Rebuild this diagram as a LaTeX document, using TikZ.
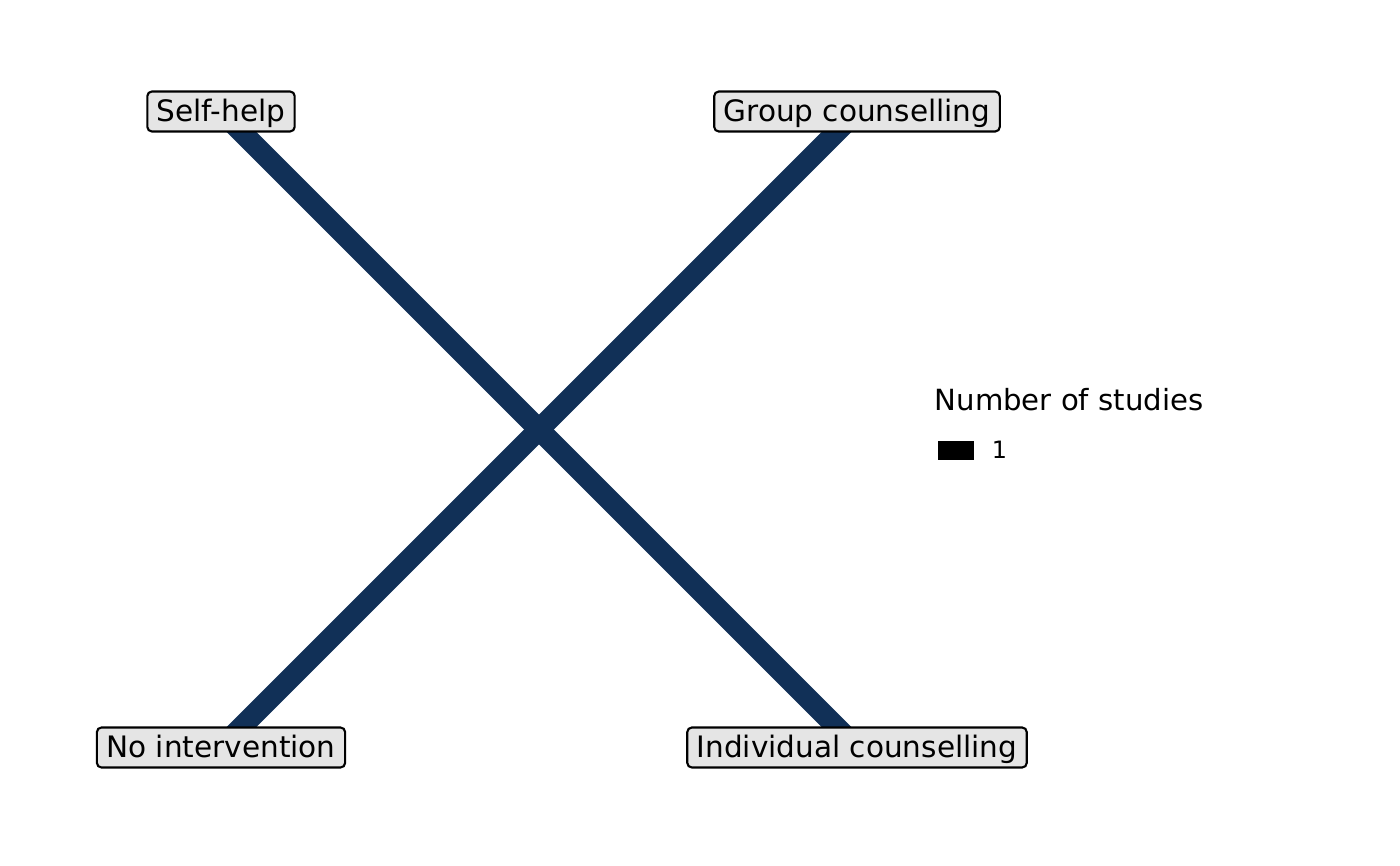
\documentclass[tikz,border=0pt]{standalone}
\usepackage{fontspec}
\setmainfont{DejaVu Sans}
\usepackage{xcolor}
\usetikzlibrary{backgrounds}
\definecolor{netblue}{RGB}{17,48,87}
\definecolor{labelgray}{RGB}{229,229,229}
\tikzset{every node/.style={font=\fontsize{8.4}{10}\selectfont},
	treat/.style={draw=black, line width=0.6pt, fill=labelgray, rounded corners=1.3pt,
		inner xsep=0.095cm, inner ysep=0cm, minimum height=0.4cm,
		text height=0.79em, text depth=0.21em},
	comp/.style={netblue, line width=0.21cm}}

\begin{document}
\begin{tikzpicture}
	\useasboundingbox (0,0) rectangle (14,8.66);
	
	% treatments
	\node[treat] (sh) at (2.21,7.545) {Self-help};
	\node[treat] (gc) at (8.57,7.545) {Group counselling};
	\node[treat] (ni) at (2.21,1.185) {No intervention};
	\node[treat] (ic) at (8.57,1.185) {Individual counselling};
	
	% comparisons
	\begin{scope}[on background layer]
		\draw[comp] (sh.center) -- (ic.center);
		\draw[comp] (gc.center) -- (ni.center);
	\end{scope}
	
	% legend
	\node[anchor=west, inner sep=0pt, font=\fontsize{8.3}{10}\selectfont] (legtitle) at (9.34,4.66) {Number of studies};
	\fill[black] (9.38,4.06) rectangle (9.74,4.25);
	\node[anchor=center, inner sep=0pt, font=\fontsize{6.8}{8}\selectfont] (legone) at (9.995,4.16) {1};
\end{tikzpicture}
\end{document}
